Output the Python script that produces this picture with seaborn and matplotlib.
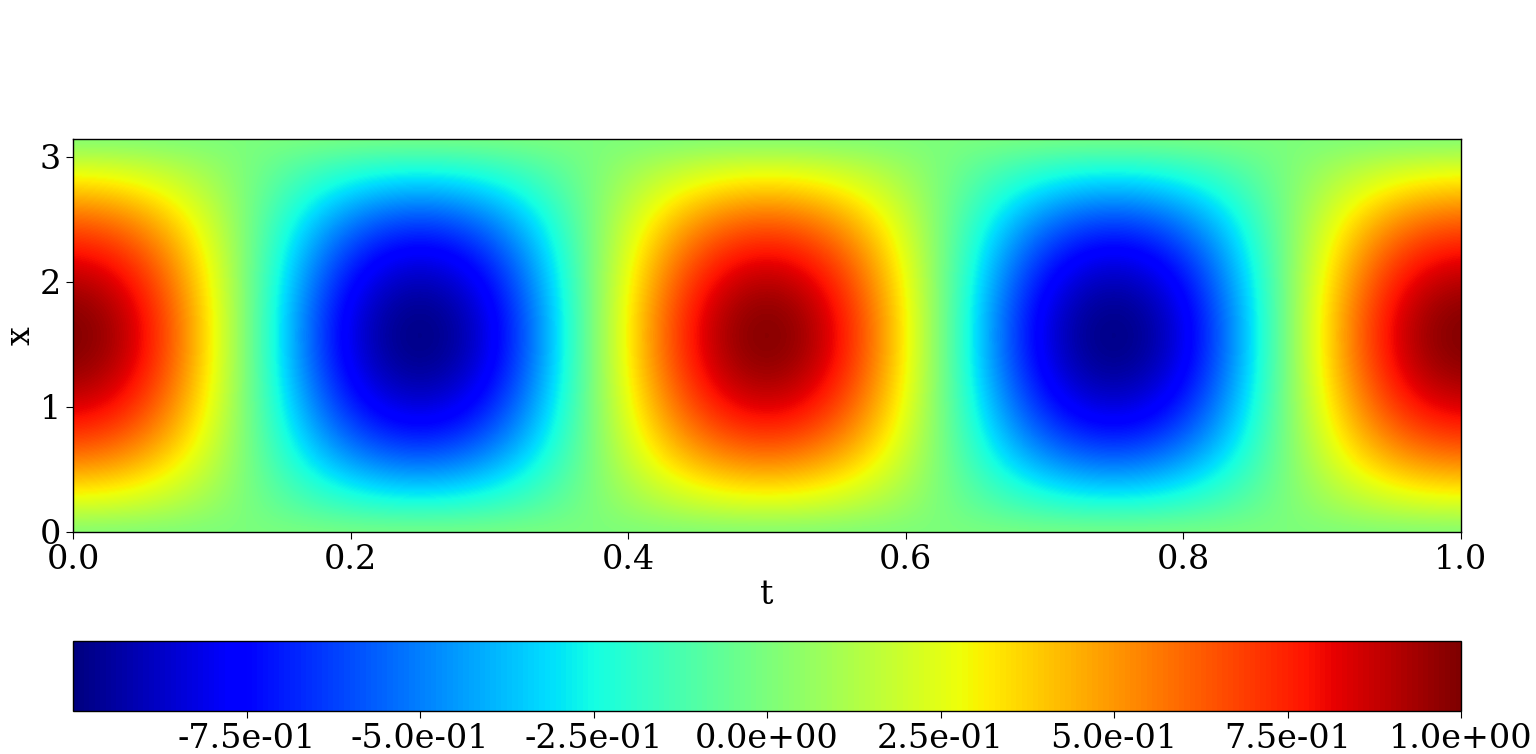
import numpy as np
import matplotlib
matplotlib.use("Agg")
import matplotlib.pyplot as plt
import seaborn as sns

# Amplitude of the field along t (read at t = 0, 0.025, ..., 1.0)
t_values = np.linspace(0.0, 1.0, 41)
t_amplitude = [1.00, 0.95, 0.81, 0.59, 0.31, 0.00, -0.31, -0.59, -0.81, -0.95,
               -1.00, -0.95, -0.81, -0.59, -0.31, 0.00, 0.31, 0.59, 0.81, 0.95,
               1.00, 0.95, 0.81, 0.59, 0.31, 0.00, -0.31, -0.59, -0.81, -0.95,
               -1.00, -0.95, -0.81, -0.59, -0.31, 0.00, 0.31, 0.59, 0.81, 0.95,
               1.00]
# Amplitude of the field along x (read at x = 0, pi/16, ..., pi)
x_values = np.linspace(0.0, np.pi, 17)
x_amplitude = [0.00, 0.20, 0.38, 0.56, 0.71, 0.83, 0.92, 0.98, 1.00,
               0.98, 0.92, 0.83, 0.71, 0.56, 0.38, 0.20, 0.00]

cbar_ticks = [-0.75, -0.5, -0.25, 0.0, 0.25, 0.5, 0.75, 1.0]
x_ticks = [0, 1, 2, 3]
t_ticks = [0.0, 0.2, 0.4, 0.6, 0.8, 1.0]

sns.set_style("ticks")
plt.rcParams["font.family"] = ["DejaVu Serif"]
plt.rcParams["font.size"] = 24
for key in ["text.color", "axes.labelcolor", "xtick.color", "ytick.color", "axes.edgecolor"]:
    plt.rcParams[key] = "black"

field = np.outer(np.array(x_amplitude), np.array(t_amplitude))

fig = plt.figure(figsize=(15.36, 7.54), dpi=100)
ax = fig.add_axes([73 / 1536, 1 - 532 / 754, (1461 - 73) / 1536, (532 - 139) / 754])
cax = fig.add_axes([73 / 1536, 1 - 711 / 754, (1461 - 73) / 1536, (711 - 641) / 754])

dt = t_values[1] - t_values[0]
dx = x_values[1] - x_values[0]
im = ax.imshow(field, origin="lower", aspect="auto", cmap="jet", vmin=-1, vmax=1,
               interpolation="bicubic",
               extent=[t_values[0] - dt / 2, t_values[-1] + dt / 2,
                       x_values[0] - dx / 2, x_values[-1] + dx / 2])
ax.set_xlim(0, 1)
ax.set_ylim(0, np.pi)
ax.set_xticks(t_ticks)
ax.set_xticklabels([f"{v:.1f}" for v in t_ticks])
ax.set_yticks(x_ticks)
ax.set_xlabel("t", labelpad=2)
ax.set_ylabel("x", labelpad=2)
ax.tick_params(labelsize=24, length=5, colors="black")
for s in ax.spines.values():
    s.set_linewidth(1.0)
    s.set_color("black")

cb = fig.colorbar(im, cax=cax, orientation="horizontal")
cb.set_ticks(cbar_ticks)
cb.set_ticklabels([f"{v:.1e}" for v in cbar_ticks])
cb.ax.tick_params(labelsize=24, length=5, colors="black")
cb.outline.set_linewidth(1.0)
cb.outline.set_edgecolor("black")

fig.savefig("out.png", dpi=100)
